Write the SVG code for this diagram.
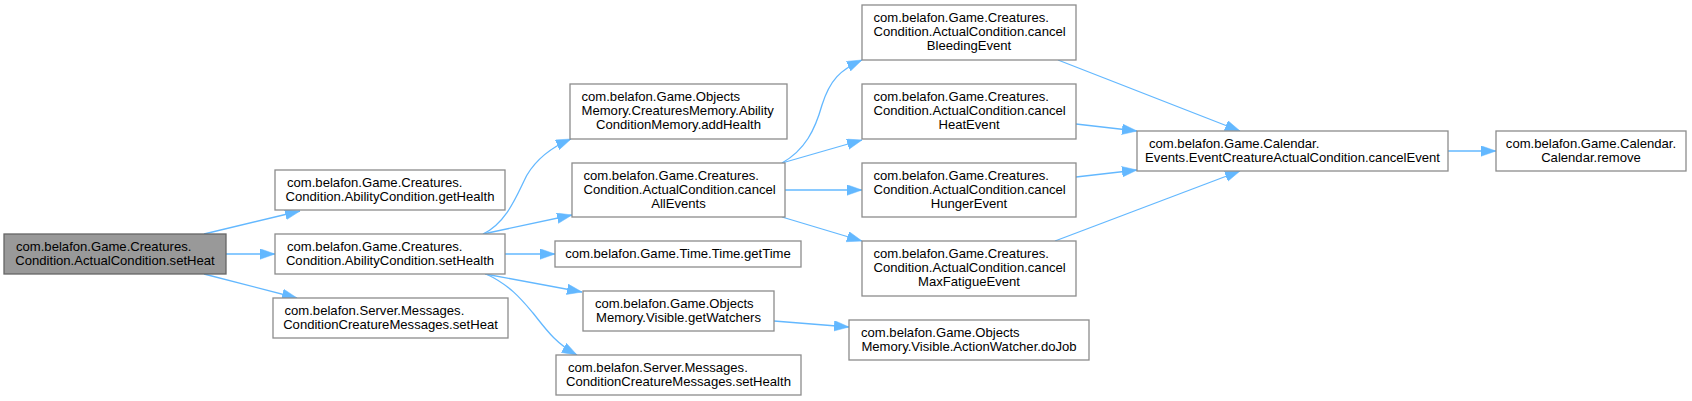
<svg xmlns="http://www.w3.org/2000/svg" width="1692" height="401" viewBox="0 0 1692 401">
<defs>
<style>
.n rect{fill:#ffffff;stroke:#8c8c8c;stroke-width:1.3}
.root rect{fill:#999999;stroke:#666666;stroke-width:1.3}
text{font-family:"Liberation Sans",Arial,sans-serif;font-size:13.1px;fill:#000000}
.m{text-anchor:middle}
.e path{fill:none;stroke:#63b8ff;stroke-width:1.3;marker-end:url(#ah)}
</style>
<marker id="ah" markerUnits="userSpaceOnUse" markerWidth="16" markerHeight="12" refX="15" refY="5.25" orient="auto">
<path d="M0,0 L15,5.25 L0,10.5 z" fill="#63b8ff" stroke="#63b8ff" stroke-width="0.5"/>
</marker>
</defs>
<rect width="1692" height="401" fill="#ffffff"/>
<g id="edges" class="e">
<path d="M204,234 L300,211"/>
<path d="M226,254 L275,254"/>
<path d="M204,274 L297,298"/>
<path d="M483,234 C508,222 518,192 527,175 C536,160 552,147 571,139"/>
<path d="M483,234 L572,215"/>
<path d="M505,254 L555,254"/>
<path d="M485,274 L582,292"/>
<path d="M486,274 C510,285 522,300 533,313 C545,328 555,343 577,355"/>
<path d="M782,163 C805,150 815,130 822,105 C830,80 840,70 862,60"/>
<path d="M782,163 L862,140"/>
<path d="M785,190 L862,190"/>
<path d="M782,217 L862,241"/>
<path d="M1058,60 L1240,131"/>
<path d="M1076,124 L1137,131"/>
<path d="M1076,177 L1137,170"/>
<path d="M1055,241 L1240,171"/>
<path d="M1448,151 L1496,151"/>
<path d="M774,321 L849,327"/>
</g>
<g id="node1" class="root">
<rect x="4" y="234" width="222" height="40"/>
<text x="16" y="251">com.belafon.Game.Creatures.</text>
<text x="115" y="265" class="m">Condition.ActualCondition.setHeat</text>
</g>
<g id="node2" class="n">
<rect x="275" y="170" width="230" height="40"/>
<text x="287" y="187">com.belafon.Game.Creatures.</text>
<text x="390" y="201" class="m">Condition.AbilityCondition.getHealth</text>
</g>
<g id="node3" class="n">
<rect x="275" y="234" width="230" height="40"/>
<text x="287" y="251">com.belafon.Game.Creatures.</text>
<text x="390" y="265" class="m">Condition.AbilityCondition.setHealth</text>
</g>
<g id="node4" class="n">
<rect x="273" y="298" width="235" height="40"/>
<text x="284.5" y="315">com.belafon.Server.Messages.</text>
<text x="390.5" y="329" class="m">ConditionCreatureMessages.setHeat</text>
</g>
<g id="node5" class="n">
<rect x="570" y="84" width="217" height="55"/>
<text x="581.5" y="101">com.belafon.Game.Objects</text>
<text x="581.5" y="115">Memory.CreaturesMemory.Ability</text>
<text x="678.5" y="129" class="m">ConditionMemory.addHealth</text>
</g>
<g id="node6" class="n">
<rect x="572" y="163" width="213" height="54"/>
<text x="583.5" y="180">com.belafon.Game.Creatures.</text>
<text x="583.5" y="194">Condition.ActualCondition.cancel</text>
<text x="678.5" y="208" class="m">AllEvents</text>
</g>
<g id="node7" class="n">
<rect x="555" y="241" width="246" height="26"/>
<text x="678" y="258" class="m">com.belafon.Game.Time.Time.getTime</text>
</g>
<g id="node8" class="n">
<rect x="583" y="291" width="191" height="40"/>
<text x="595" y="308">com.belafon.Game.Objects</text>
<text x="678.5" y="322" class="m">Memory.Visible.getWatchers</text>
</g>
<g id="node9" class="n">
<rect x="556" y="355" width="245" height="40"/>
<text x="568" y="372">com.belafon.Server.Messages.</text>
<text x="678.5" y="386" class="m">ConditionCreatureMessages.setHealth</text>
</g>
<g id="node10" class="n">
<rect x="862" y="5" width="214" height="55"/>
<text x="873.5" y="22">com.belafon.Game.Creatures.</text>
<text x="873.5" y="36">Condition.ActualCondition.cancel</text>
<text x="969" y="50" class="m">BleedingEvent</text>
</g>
<g id="node11" class="n">
<rect x="862" y="84" width="214" height="55"/>
<text x="873.5" y="101">com.belafon.Game.Creatures.</text>
<text x="873.5" y="115">Condition.ActualCondition.cancel</text>
<text x="969" y="129" class="m">HeatEvent</text>
</g>
<g id="node12" class="n">
<rect x="862" y="163" width="214" height="54"/>
<text x="873.5" y="180">com.belafon.Game.Creatures.</text>
<text x="873.5" y="194">Condition.ActualCondition.cancel</text>
<text x="969" y="208" class="m">HungerEvent</text>
</g>
<g id="node13" class="n">
<rect x="862" y="241" width="214" height="55"/>
<text x="873.5" y="258">com.belafon.Game.Creatures.</text>
<text x="873.5" y="272">Condition.ActualCondition.cancel</text>
<text x="969" y="286" class="m">MaxFatigueEvent</text>
</g>
<g id="node14" class="n">
<rect x="849" y="320" width="240" height="40"/>
<text x="861" y="337">com.belafon.Game.Objects</text>
<text x="969" y="351" class="m">Memory.Visible.ActionWatcher.doJob</text>
</g>
<g id="node15" class="n">
<rect x="1137" y="131" width="311" height="40"/>
<text x="1149" y="147.5">com.belafon.Game.Calendar.</text>
<text x="1292.5" y="161.5" class="m">Events.EventCreatureActualCondition.cancelEvent</text>
</g>
<g id="node16" class="n">
<rect x="1496" y="131" width="190" height="40"/>
<text x="1591" y="147.5" class="m">com.belafon.Game.Calendar.</text>
<text x="1591" y="161.5" class="m">Calendar.remove</text>
</g>
</svg>
